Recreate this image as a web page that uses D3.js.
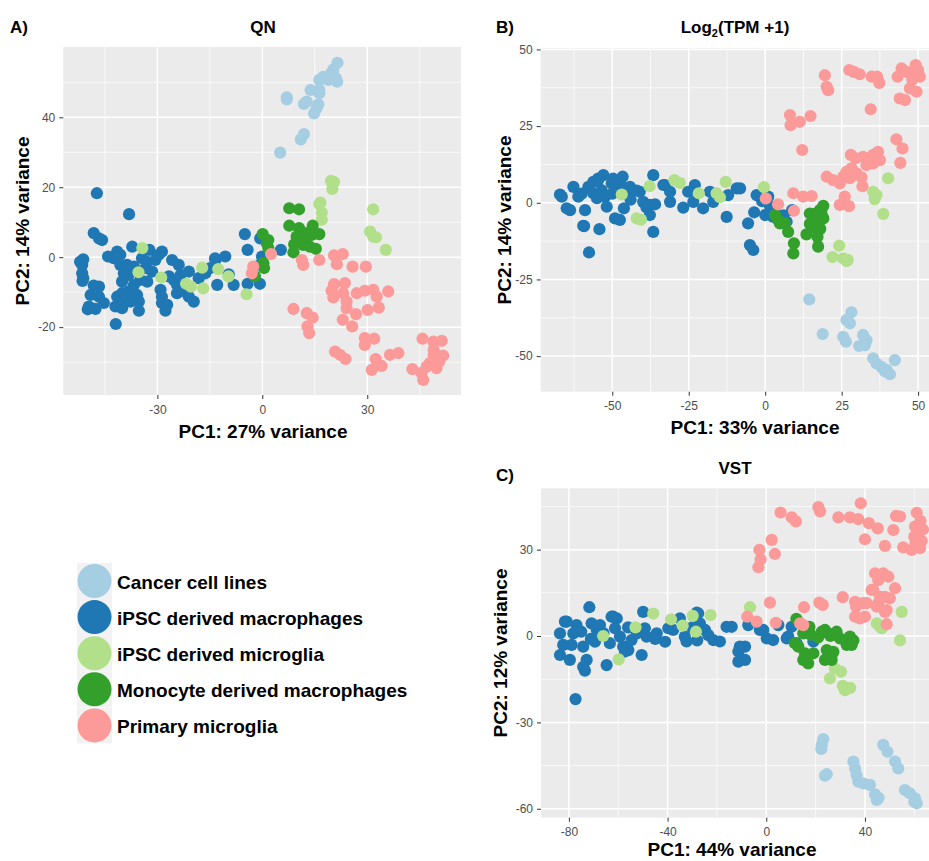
<!DOCTYPE html>
<html><head><meta charset="utf-8">
<script src="https://cdn.jsdelivr.net/npm/d3@7"></script>
<style>body{margin:0;background:#fff}svg{display:block;font-family:"Liberation Sans",Arial,sans-serif}</style>
</head><body>
<script>
// ---------- DATA ----------
const groups = ["Cancer cell lines","iPSC derived macrophages","iPSC derived microglia","Monocyte derived macrophages","Primary microglia"];
const groupColors = ["#a6cee3","#1f78b4","#b2df8a","#33a02c","#fb9a99"];

// Panel A: QN  [PC1, PC2]
const qnCancer = [[21.5,55.6],[20.3,53.7],[19.6,52.5],[17.4,51.6],[16.3,50.7],[18.9,50.7],[21.4,50.2],[21.0,51.2],[13.8,47.8],[16.3,47.8],[16.3,46.9],[7.0,45.7],[7.0,45.1],[12.7,44.5],[11.9,43.8],[16.0,43.7],[15.5,42.6],[14.8,41.1],[11.9,35.2],[11.0,33.7],[5.1,29.9]];
const qnIpscMac = [[-47.3,18.3],[-38.1,12.3],[-48.2,6.9],[-46.7,5.4],[-45.8,4.9],[-51.2,-0.6],[-51.5,-2.2],[-51.5,-4.6],[-51.2,-6.0],[-48.2,-8.1],[-46.7,-8.4],[-49.1,-10.8],[-46.7,-11.3],[-49.6,-14.1],[-47.7,-14.8],[-45.3,-13.1],[-44.1,0.2],[-41.5,1.6],[-40.6,0.7],[-42.5,-0.3],[-40.6,-2.2],[-39.6,-4.6],[-40.1,-7.0],[-38.2,-5.1],[-37.2,3.0],[-32.3,2.1],[-34.4,-0.3],[-32.9,-1.3],[-30.6,-0.8],[-28.7,1.6],[-29.6,0.7],[-33.4,-3.1],[-31.5,-4.1],[-34.9,-6.5],[-36.7,-7.9],[-38.2,-9.8],[-40.1,-10.3],[-41.5,-11.3],[-39.1,-12.2],[-35.8,-10.8],[-35.3,-12.7],[-35.3,-15.3],[-42.0,-14.1],[-40.1,-14.6],[-41.9,-19.1],[-32.9,-7.0],[-26.7,-5.5],[-29.1,-9.3],[-28.7,-11.3],[-28.7,-13.1],[-27.2,-13.6],[-27.7,-15.3],[-25.8,-0.8],[-23.9,-2.2],[-25.3,-6.5],[-24.4,-7.9],[-24.4,-10.3],[-22.9,-9.3],[-21.0,-4.1],[-23.4,-5.1],[-21.5,-10.3],[-19.6,-12.7],[-21.0,-11.3],[-18.2,-6.0],[-16.3,-4.6],[-14.9,-3.1],[-13.4,-0.8],[-10.6,0.2],[-12.9,-7.9],[-9.6,-4.9],[-8.2,-7.9],[-5.0,6.6],[-4.2,2.1],[-4.2,-7.6],[-0.7,-7.6],[-0.1,0.2],[-0.6,-2.2],[-0.6,5.4],[5.3,2.1],[-36.7,-2.7],[-38.7,-2.2],[-37.7,-12.7],[-49.9,-14.9],[-52.1,-1.3],[-51.4,-6.8],[-13.5,-0.3]];
const qnIpscMg = [[19.6,21.8],[20.5,21.5],[20.0,19.5],[16.3,15.2],[16.6,15.6],[17.0,12.7],[31.7,13.7],[17.0,10.7],[30.8,7.3],[31.7,5.9],[32.5,5.7],[35.3,2.1],[-34.3,2.6],[-35.4,-4.3],[-28.9,-5.8],[-17.2,-3.0],[-12.6,-3.4],[-9.7,-5.5],[-21.8,-7.6],[-20.4,-8.4],[-16.9,-8.9],[-4.5,-10.6]];
const qnMono = [[7.7,14.0],[10.5,13.7],[7.7,9.0],[10.5,8.3],[14.4,9.0],[16.3,6.6],[9.8,5.9],[12.2,5.6],[14.1,6.4],[12.7,6.9],[9.1,3.7],[8.9,1.4],[11.7,3.5],[13.6,3.0],[15.3,2.4],[0.1,6.6],[1.7,4.9],[1.3,4.0],[1.7,2.6],[0.3,-1.7],[0.5,-3.1],[-2.1,-5.5]];
const qnPrimary = [[2.5,0.9],[-2.6,-2.7],[-3.0,-4.6],[11.3,-0.8],[11.7,-2.2],[16.3,-0.8],[20.5,0.5],[23.0,0.9],[21.3,-2.0],[25.8,-2.7],[29.6,-2.7],[20.5,-7.7],[23.6,-7.4],[19.8,-9.6],[20.3,-11.5],[23.1,-10.3],[27.0,-10.3],[29.3,-9.6],[31.7,-9.3],[32.7,-11.3],[36.0,-9.8],[24.1,-12.7],[24.1,-14.6],[26.8,-16.3],[30.1,-15.1],[33.3,-14.4],[23.0,-17.9],[25.7,-19.8],[8.9,-14.8],[12.7,-16.0],[14.4,-17.3],[12.9,-19.8],[13.4,-21.7],[29.3,-23.1],[32.0,-23.3],[29.3,-25.1],[20.8,-27.0],[22.2,-27.9],[23.8,-29.1],[32.4,-29.1],[34.1,-31.1],[31.3,-32.2],[36.5,-27.9],[38.9,-27.4],[45.8,-23.3],[48.9,-24.1],[51.3,-23.9],[49.0,-26.5],[51.7,-28.1],[50.6,-29.8],[47.9,-30.3],[47.0,-31.3],[49.8,-31.7],[42.9,-32.0],[45.5,-33.1],[46.0,-35.1],[49.0,-28.0]];

// Panel B: Log2(TPM+1)
const logCancer = [[14.4,-31.5],[18.8,-42.8],[28.2,-35.7],[26.6,-38.2],[27.7,-39.3],[25.5,-43.7],[26.4,-45.3],[32.0,-43.1],[33.1,-44.8],[30.7,-46.7],[32.6,-46.4],[35.3,-50.7],[36.4,-52.4],[38.0,-53.5],[39.7,-54.5],[40.8,-55.9],[39.2,-55.0],[42.4,-51.3]];
const logIpscMac = [[-67.1,2.7],[-66.5,2.0],[-64.9,-1.8],[-63.8,-2.4],[-62.7,5.2],[-61.1,2.0],[-58.9,-2.4],[-59.5,-7.5],[-57.6,-16.2],[-54.2,-8.6],[-57.8,5.2],[-56.2,6.8],[-54.6,7.9],[-52.9,9.0],[-56.2,3.1],[-53.5,4.1],[-52.4,2.0],[-51.8,-1.3],[-50.2,6.3],[-49.0,5.0],[-47.5,7.4],[-46.5,5.0],[-44.2,5.2],[-44.8,2.5],[-49.1,-5.1],[-47.5,-5.6],[-46.2,-1.8],[-41.0,3.6],[-39.9,0.3],[-37.7,-0.7],[-38.8,-1.5],[-36.0,-0.5],[-37.7,-4.0],[-36.6,-9.5],[-36.6,9.0],[-33.3,5.8],[-31.1,3.6],[-31.1,0.3],[-26.8,-1.6],[-25.2,3.6],[-23.5,0.3],[-23.0,5.8],[-20.3,-1.8],[-18.1,3.6],[-17.0,0.3],[-12.6,-4.6],[-12.1,2.5],[-9.3,4.7],[-8.2,4.7],[-5.6,-6.7],[-5.0,-13.8],[-3.9,-15.4],[-2.8,2.5],[-3.6,-3.1],[-1.0,0.5],[1.0,2.0],[1.5,-1.0],[3.0,-2.5],[0.0,-4.0],[2.5,-4.5],[7.0,-6.2],[8.8,-2.4],[6.0,-4.1],[-54.6,7.4],[-49.7,7.9],[-46.6,8.5],[-32.8,5.8],[-59.2,-7.6],[-44.0,1.0],[-42.0,4.0],[-60.0,3.0],[-55.0,1.5],[-50.0,3.0]];
const logIpscMg = [[-29.7,7.4],[-27.9,6.5],[-37.8,5.4],[-21.7,3.1],[-15.9,3.1],[-14.8,1.8],[-12.9,6.8],[-0.4,5.1],[40.2,8.0],[35.3,3.6],[36.4,2.5],[35.8,1.2],[38.6,-3.6],[-42.0,-5.1],[-40.6,-5.5],[-46.9,2.7],[24.2,-14.0],[22.0,-17.7],[25.5,-18.1],[26.6,-19.0],[27.0,-18.6]];
const logMono = [[19.0,-1.0],[17.9,-2.4],[16.5,-3.5],[14.6,-3.5],[18.4,-3.5],[19.0,-5.1],[14.6,-6.9],[16.0,-5.0],[17.5,-6.5],[15.5,-8.0],[18.0,-8.5],[13.5,-10.3],[17.1,-11.1],[17.3,-14.3],[9.4,-13.2],[9.2,-16.5],[4.2,-5.6],[4.8,-6.7],[6.4,-6.7],[7.5,-9.5],[3.2,-4.0]];
const logPrimary = [[19.5,41.6],[20.1,37.8],[20.6,36.7],[27.5,43.3],[29.0,42.7],[30.9,41.9],[34.8,41.1],[36.6,41.1],[37.3,39.1],[34.5,30.5],[43.3,41.1],[44.6,43.8],[46.2,42.7],[49.2,44.9],[50.0,43.3],[50.6,41.1],[48.5,41.9],[48.1,40.1],[47.3,37.3],[49.5,36.2],[44.0,34.0],[45.7,33.5],[8.1,28.6],[8.3,25.3],[11.3,26.4],[14.8,28.3],[12.1,17.2],[42.9,20.7],[44.9,17.7],[44.2,13.0],[28.0,15.6],[29.6,14.5],[32.0,15.0],[35.3,15.6],[36.9,16.6],[37.5,13.9],[33.1,12.3],[35.3,12.8],[34.0,14.5],[36.0,15.0],[20.1,8.5],[22.2,7.4],[24.4,6.3],[25.5,8.5],[26.6,10.1],[28.2,11.2],[29.9,9.6],[31.5,8.3],[27.7,8.0],[31.8,5.4],[26.0,2.0],[24.4,-0.7],[27.4,-1.1],[9.2,3.1],[12.4,2.0],[15.2,2.2],[0.2,1.4],[4.2,-0.5],[9.4,-2.6]];

// Panel C: VST
const vstCancer = [[23.1,-35.8],[22.5,-37.8],[22.3,-39.2],[24.5,-48.0],[23.8,-48.5],[35.3,-43.6],[36.0,-46.0],[36.6,-48.3],[37.3,-50.6],[39.3,-51.2],[42.0,-51.7],[44.1,-55.0],[44.8,-56.9],[45.5,-56.2],[47.4,-37.8],[49.1,-40.2],[52.2,-43.6],[53.5,-46.0],[56.2,-53.5],[58.2,-54.6],[60.3,-56.4],[61.0,-58.1],[60.0,-57.5]];
const vstIpscMac = [[-81.6,5.0],[-83.6,0.9],[-82.3,-3.1],[-83.6,-6.6],[-79.6,-8.3],[-78.2,0.9],[-76.9,3.8],[-78.9,-3.1],[-74.2,-3.7],[-72.8,-8.3],[-74.2,-10.7],[-73.5,-12.0],[-71.7,10.0],[-70.8,4.4],[-68.7,2.1],[-67.4,3.8],[-69.4,-2.0],[-71.1,-1.0],[-63.4,-2.5],[-64.7,-10.1],[-62.7,6.7],[-60.6,6.1],[-61.3,2.7],[-59.3,-0.2],[-58.0,-3.7],[-55.9,-4.9],[-57.3,-5.4],[-54.6,-1.4],[-52.5,0.9],[-49.9,8.4],[-49.2,2.7],[-48.5,-0.2],[-50.5,-6.6],[-44.4,0.9],[-39.7,2.7],[-37.7,2.1],[-35.0,6.1],[-33.0,-0.2],[-32.3,-1.9],[-27.6,7.9],[-26.9,4.4],[-24.8,2.1],[-23.5,0.3],[-21.5,-1.4],[-18.8,-1.9],[-16.1,3.2],[-14.0,3.2],[-10.7,-3.7],[-11.3,-5.4],[-11.3,-8.9],[-8.6,-8.3],[-8.6,-3.7],[-7.3,3.8],[-2.6,2.1],[0.2,-0.8],[2.8,-1.4],[4.9,3.8],[8.9,-0.2],[12.3,-2.5],[19.1,-1.9],[-77.3,-21.9],[-80.9,5.0],[-62.0,6.7],[-28.2,8.1],[-1.2,2.1],[10.3,3.2],[8.3,-0.8],[-66.0,1.0],[-56.0,3.0],[-45.0,-1.0],[-41.0,-2.0],[-30.0,3.0],[-28.0,-1.5],[-75.0,1.5]];
const vstIpscMg = [[-6.6,10.0],[-22.6,7.3],[-29.8,7.0],[-28.5,1.5],[-33.9,3.6],[-38.6,5.8],[-45.8,7.8],[-53.0,3.0],[-66.1,0.0],[-59.8,-8.1],[54.9,8.4],[54.2,-1.5],[44.8,4.4],[46.8,2.7],[45.8,3.5],[27.8,-11.2],[30.3,-12.4],[25.8,-14.7],[31.0,-17.3],[32.8,-18.2],[34.0,-18.0],[31.9,-18.8]];
const vstMono = [[12.2,6.0],[13.7,4.4],[15.0,0.9],[16.0,1.5],[17.5,3.2],[18.0,0.5],[22.5,1.5],[25.1,0.9],[28.5,1.5],[29.9,-0.8],[33.9,-0.2],[32.6,-3.1],[34.6,-3.1],[35.3,-1.5],[11.6,-2.5],[13.0,-3.7],[15.7,-6.0],[19.1,-6.0],[15.0,-8.3],[17.0,-9.5],[24.5,-4.9],[27.2,-5.5],[23.8,-8.3],[26.5,-8.3],[23.8,2.1],[21.0,-0.5],[26.0,0.0]];
const vstPrimary = [[5.8,42.9],[10.3,41.2],[12.0,39.8],[21.1,44.8],[21.8,43.3],[29.2,41.2],[33.9,41.2],[37.3,40.6],[38.3,46.1],[41.6,39.2],[45.2,37.4],[40.0,33.6],[48.1,31.3],[51.5,36.8],[52.6,41.7],[54.2,41.5],[55.5,30.8],[58.9,29.9],[62.3,30.5],[61.0,42.8],[62.5,40.0],[60.3,38.0],[63.5,37.0],[61.5,35.0],[63.0,33.0],[60.5,32.5],[60.0,34.5],[2.2,33.4],[3.5,28.5],[-2.8,29.9],[-2.3,26.6],[-3.2,23.9],[1.5,11.6],[15.3,10.0],[21.5,11.6],[22.9,10.8],[31.0,13.5],[36.0,11.9],[36.4,10.2],[36.0,6.7],[40.7,11.4],[40.0,6.7],[39.3,11.4],[38.0,6.1],[44.1,21.8],[45.4,19.4],[47.4,21.8],[49.5,20.6],[43.4,16.0],[46.1,13.6],[45.4,11.4],[48.1,13.6],[50.1,13.1],[52.2,16.6],[48.8,9.0],[48.8,4.1],[44.8,10.2],[42.7,16.0],[48.1,8.4],[-7.7,6.7],[-3.9,5.0],[3.9,4.6],[13.7,4.4],[15.0,3.8]];

// Axis ticks
const qnXTicks = [-30,0,30], qnYTicks = [-20,0,20,40];
const logXTicks = [-50,-25,0,25,50], logYTicks = [-50,-25,0,25,50];
const vstXTicks = [-80,-40,0,40], vstYTicks = [-60,-30,0,30];

// ---------- DRAW ----------
const W = 929, H = 861;
const svg = d3.select("body").append("svg").attr("width", W).attr("height", H);
svg.append("rect").attr("width", W).attr("height", H).attr("fill", "#fff");

function minors(ticks, dom) {
  const step = ticks[1] - ticks[0];
  const out = [];
  for (let v = ticks[0] - step * 3.5; v <= ticks[ticks.length - 1] + step * 3.5; v += step) {
    if (v > Math.min(...dom) && v < Math.max(...dom)) out.push(v);
  }
  return out;
}

function panel(cfg, id) {
  const x = d3.scaleLinear().domain(cfg.xDomain).range([cfg.left, cfg.right]);
  const y = d3.scaleLinear().domain(cfg.yDomain).range([cfg.bottom, cfg.top]);
  const g = svg.append("g");
  svg.append("clipPath").attr("id", "clip" + id).append("rect")
    .attr("x", cfg.left).attr("y", cfg.top).attr("width", cfg.right - cfg.left).attr("height", cfg.bottom - cfg.top);
  g.append("rect").attr("x", cfg.left).attr("y", cfg.top)
    .attr("width", cfg.right - cfg.left).attr("height", cfg.bottom - cfg.top).attr("fill", "#ebebeb");
  const grid = g.append("g");
  grid.selectAll(".vmin").data(minors(cfg.xTicks, cfg.xDomain)).join("line")
    .attr("x1", d => x(d)).attr("x2", d => x(d)).attr("y1", cfg.top).attr("y2", cfg.bottom)
    .attr("stroke", "#fff").attr("stroke-width", 0.7);
  grid.selectAll(".hmin").data(minors(cfg.yTicks, cfg.yDomain)).join("line")
    .attr("y1", d => y(d)).attr("y2", d => y(d)).attr("x1", cfg.left).attr("x2", cfg.right)
    .attr("stroke", "#fff").attr("stroke-width", 0.7);
  grid.selectAll(".vmaj").data(cfg.xTicks).join("line")
    .attr("x1", d => x(d)).attr("x2", d => x(d)).attr("y1", cfg.top).attr("y2", cfg.bottom)
    .attr("stroke", "#fff").attr("stroke-width", 1.5);
  grid.selectAll(".hmaj").data(cfg.yTicks).join("line")
    .attr("y1", d => y(d)).attr("y2", d => y(d)).attr("x1", cfg.left).attr("x2", cfg.right)
    .attr("stroke", "#fff").attr("stroke-width", 1.5);

  const pts = g.append("g").attr("clip-path", "url(#clip" + id + ")");
  cfg.series.forEach((s, i) => {
    pts.selectAll(null).data(s).join("circle")
      .attr("cx", d => x(d[0])).attr("cy", d => y(d[1])).attr("r", 6.1)
      .attr("fill", groupColors[i]);
  });

  const ax = g.append("g").attr("transform", `translate(0,${cfg.bottom})`)
    .call(d3.axisBottom(x).tickValues(cfg.xTicks).tickSize(4).tickPadding(6).tickFormat(d3.format("d")));
  const ay = g.append("g").attr("transform", `translate(${cfg.left},0)`)
    .call(d3.axisLeft(y).tickValues(cfg.yTicks).tickSize(4).tickPadding(4).tickFormat(d3.format("d")));
  [ax, ay].forEach(a => {
    a.select(".domain").remove();
    a.selectAll(".tick line").attr("stroke", "#333").attr("stroke-width", 1);
    a.selectAll(".tick text").attr("fill", "#4d4d4d").style("font-size", "12px")
      .style("font-family", "'Liberation Sans', Arial, sans-serif").text(d => d < 0 ? "-" + Math.abs(d) : d);
  });

  g.append("text").attr("x", cfg.xTitleX).attr("y", cfg.xTitleY).attr("text-anchor", "middle")
    .style("font-weight", "bold").style("font-size", "19px").text(cfg.xTitle);
  g.append("text").attr("transform", `translate(${cfg.yTitleX},${cfg.yTitleY}) rotate(-90)`)
    .attr("text-anchor", "middle").style("font-weight", "bold").style("font-size", "19px").text(cfg.yTitle);
}

panel({left: 63.3, right: 461, top: 47, bottom: 395, xDomain: [-56.9, 56.8], yDomain: [-39.4, 60.1],
  xTicks: qnXTicks, yTicks: qnYTicks, series: [qnCancer, qnIpscMac, qnIpscMg, qnMono, qnPrimary],
  xTitle: "PC1: 27% variance", xTitleX: 263, xTitleY: 438, yTitle: "PC2: 14% variance", yTitleX: 29, yTitleY: 221}, "A");
panel({left: 540.7, right: 938, top: 48.2, bottom: 391.7, xDomain: [-73.4, 56.5], yDomain: [-61.6, 50.4],
  xTicks: logXTicks, yTicks: logYTicks, series: [logCancer, logIpscMac, logIpscMg, logMono, logPrimary],
  xTitle: "PC1: 33% variance", xTitleX: 755, xTitleY: 434, yTitle: "PC2: 14% variance", yTitleX: 511, yTitleY: 220}, "B");
panel({left: 541, right: 941.2, top: 488.3, bottom: 817.7, xDomain: [-91.3, 70.9], yDomain: [-63.1, 51.3],
  xTicks: vstXTicks, yTicks: vstYTicks, series: [vstCancer, vstIpscMac, vstIpscMg, vstMono, vstPrimary],
  xTitle: "PC1: 44% variance", xTitleX: 732, xTitleY: 856, yTitle: "PC2: 12% variance", yTitleX: 507, yTitleY: 653}, "C");

// Titles
const tt = (x, y, txt, anchor) => svg.append("text").attr("x", x).attr("y", y).attr("text-anchor", anchor || "start")
  .style("font-weight", "bold").style("font-size", "17px").text(txt);
tt(10, 33, "A)");
tt(263, 33, "QN", "middle");
tt(496, 33, "B)");
const lt = svg.append("text").attr("x", 735).attr("y", 33).attr("text-anchor", "middle")
  .style("font-weight", "bold").style("font-size", "17px");
lt.append("tspan").text("Log");
lt.append("tspan").attr("dy", 4).style("font-size", "11px").text("2");
lt.append("tspan").attr("dy", -4).text("(TPM +1)");
tt(496, 481, "C)");
tt(735, 474, "VST", "middle");

// Legend
const leg = svg.append("g");
groups.forEach((name, i) => {
  const cy = 581 + i * 36.1;
  leg.append("rect").attr("x", 77).attr("y", cy - 18).attr("width", 35).attr("height", 36).attr("fill", "#f2f2f2");
  leg.append("circle").attr("cx", 94.5).attr("cy", cy).attr("r", 17).attr("fill", groupColors[i]);
  leg.append("text").attr("x", 117).attr("y", cy + 8).style("font-weight", "bold").style("font-size", "19px").text(name);
});
</script>
</body></html>
